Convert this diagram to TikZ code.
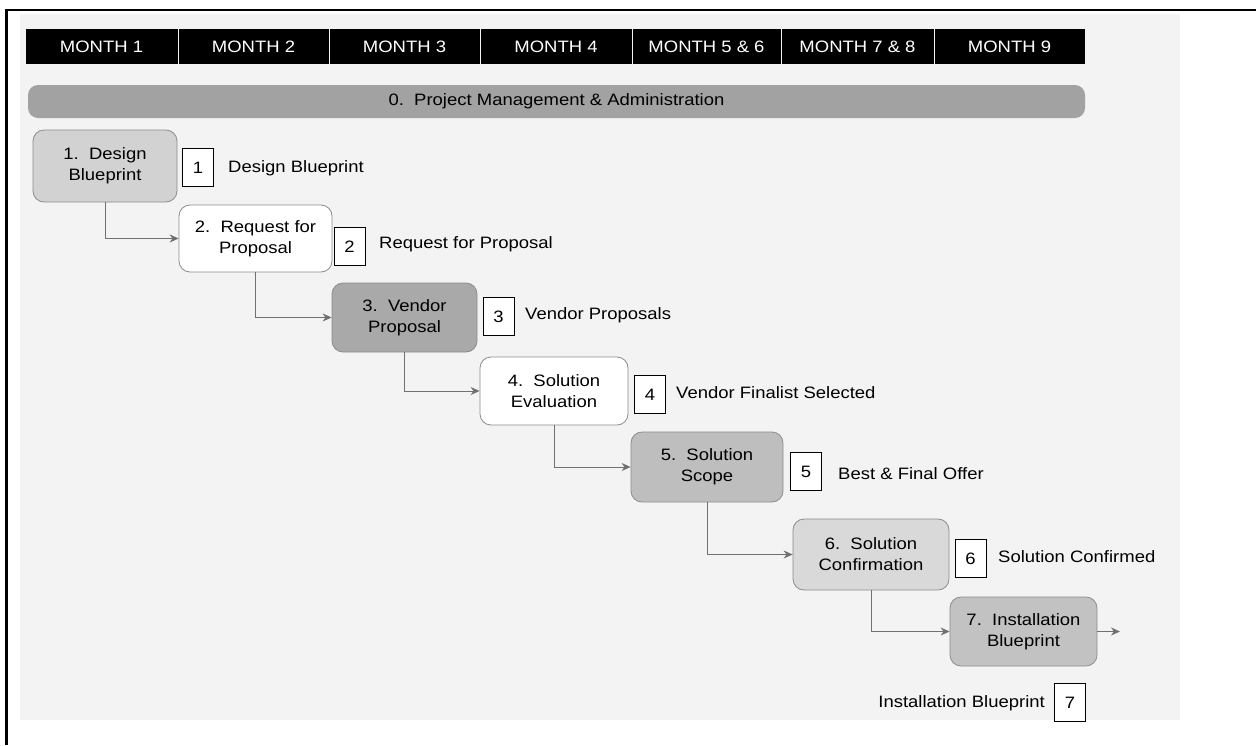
\documentclass[tikz,border=0pt]{standalone}
\usepackage{fontspec}
\setmainfont{Liberation Sans}[FakeStretch=1.12]
\usetikzlibrary{arrows.meta}
\definecolor{panelbg}{HTML}{F3F3F3}
\definecolor{pmbar}{HTML}{A2A2A2}
\definecolor{edgegray}{HTML}{8C8C8C}
\definecolor{linkgray}{HTML}{707070}
\definecolor{fillA}{HTML}{D2D2D2}
\definecolor{fillB}{HTML}{A9A9A9}
\definecolor{fillC}{HTML}{BEBEBE}
\definecolor{fillD}{HTML}{D9D9D9}
\definecolor{fillE}{HTML}{C2C2C2}
\begin{document}
\begin{tikzpicture}[x=1pt,y=-1pt,
  txt/.style={font=\fontsize{16.5}{21}\selectfont},
  monthcell/.style={txt, fill=black, text=white, minimum height=35pt, inner sep=0pt},
  phase/.style={txt, rounded corners=11pt, draw=edgegray, line width=0.8pt,
    align=center, inner sep=0pt},
  deliv/.style={txt, draw=black, fill=white, line width=0.8pt,
    minimum width=31pt, minimum height=38pt, inner sep=0pt},
  flow/.style={draw=linkgray, line width=0.9pt, -{Stealth[length=9pt,width=8pt]}}]
\useasboundingbox (0,0) rectangle (1256,745);

% page frame and stippled panel
\fill[panelbg] (20,14) rectangle (1180,720);
\draw[line width=2pt] (6,10) -- (1256,10);
\draw[line width=3pt] (6,9) -- (6,745);

% month header
\node[monthcell, minimum width=152pt] (m1) at (101.5,46.5) {MONTH 1};
\node[monthcell, minimum width=150pt] (m2) at (253.5,46.5) {MONTH 2};
\node[monthcell, minimum width=150pt] (m3) at (404.5,46.5) {MONTH 3};
\node[monthcell, minimum width=151pt] (m4) at (556,46.5) {MONTH 4};
\node[monthcell, minimum width=148pt] (m5) at (706.5,46.5) {MONTH 5 \& 6};
\node[monthcell, minimum width=152pt] (m6) at (857.5,46.5) {MONTH 7 \& 8};
\node[monthcell, minimum width=150pt] (m7) at (1009.5,46.5) {MONTH 9};

% project management bar
\node[txt, rounded corners=10pt, fill=pmbar, minimum width=1057pt, minimum height=33pt,
  inner sep=0pt] (pm) at (556.5,101.5) {0.\ \ Project Management \& Administration};

% phases
\node[phase, fill=fillA, minimum width=144pt, minimum height=72pt] (b1) at (105,166)
  {1.\ \ Design\\Blueprint};
\node[phase, fill=white, minimum width=153pt, minimum height=67pt] (b2) at (255.5,238.5)
  {2.\ \ Request for\\Proposal};
\node[phase, fill=fillB, minimum width=145pt, minimum height=69pt] (b3) at (404.5,317.5)
  {3.\ \ Vendor\\Proposal};
\node[phase, fill=white, minimum width=148pt, minimum height=68pt] (b4) at (554,391)
  {4.\ \ Solution\\Evaluation};
\node[phase, fill=fillC, minimum width=152pt, minimum height=70pt] (b5) at (707,467)
  {5.\ \ Solution\\Scope};
\node[phase, fill=fillD, minimum width=156pt, minimum height=71pt] (b6) at (871,554.5)
  {6.\ \ Solution\\Confirmation};
\node[phase, fill=fillE, minimum width=147pt, minimum height=69pt] (b7) at (1023.5,631.5)
  {7.\ \ Installation\\Blueprint};

% deliverable markers
\node[deliv] (d1) at (198,167.5) {1};
\node[deliv] (d2) at (349.5,246.5) {2};
\node[deliv] (d3) at (498.5,316.5) {3};
\node[deliv] (d4) at (650,394.5) {4};
\node[deliv] (d5) at (806,471.5) {5};
\node[deliv] (d6) at (970.5,558.5) {6};
\node[deliv] (d7) at (1070,702.5) {7};

% deliverable names
\node[txt, anchor=west, inner sep=0pt] (t1) at (228,168) {Design Blueprint};
\node[txt, anchor=west, inner sep=0pt] (t2) at (379,244) {Request for Proposal};
\node[txt, anchor=west, inner sep=0pt] (t3) at (525,315) {Vendor Proposals};
\node[txt, anchor=west, inner sep=0pt] (t4) at (676,393) {Vendor Finalist Selected};
\node[txt, anchor=west, inner sep=0pt] (t5) at (838,474) {Best \& Final Offer};
\node[txt, anchor=west, inner sep=0pt] (t6) at (998,557) {Solution Confirmed};
\node[txt, anchor=east, inner sep=0pt] (t7) at (1045,703) {Installation Blueprint};

% hand-offs between phases
\draw[flow] (b1.south) |- (b2.west);
\draw[flow] (b2.south) |- (b3.west);
\draw[flow] (b3.south) |- (b4.west);
\draw[flow] (b4.south) |- (b5.west);
\draw[flow] (b5.south) |- (b6.west);
\draw[flow] (b6.south) |- (b7.west);
\coordinate (out) at (1120,631.5);
\draw[flow] (b7.east) -- (out);
\end{tikzpicture}
\end{document}
